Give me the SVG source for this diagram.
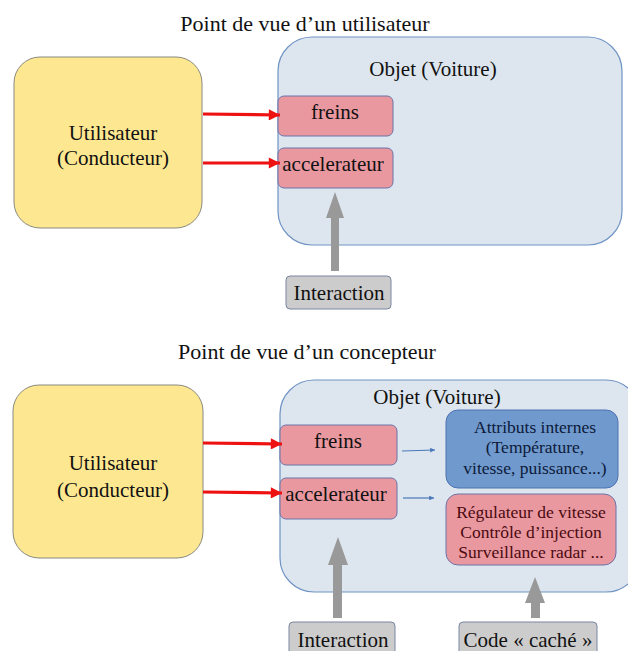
<svg xmlns="http://www.w3.org/2000/svg" width="628" height="651" viewBox="0 0 628 651">
<defs>
<style>
text{font-family:"Liberation Serif","Times New Roman",serif;text-anchor:middle}
.t{font-size:21px;fill:#111}
.h{font-size:22px;fill:#111}
.s{font-size:17.5px}
.user{fill:#fde891;stroke:#8a8a80;stroke-width:1}
.obj{fill:#dde6ef;stroke:#6f93c4;stroke-width:1.2}
.pink{fill:#ea98a0;stroke:#6b74a8;stroke-width:1}
.blue{fill:#7099cd;stroke:#4a72b0;stroke-width:1}
.gray{fill:#cccccc;stroke:#7a86a0;stroke-width:1}
.red{stroke:#ee1111;stroke-width:3.2;fill:none;marker-end:url(#rh)}
.thin{stroke:#4a78b8;stroke-width:1.2;fill:none;marker-end:url(#bh)}
.ga{fill:#999999}
</style>
<marker id="rh" viewBox="0 0 10 10" refX="10" refY="5" markerWidth="4" markerHeight="3.5" markerUnits="strokeWidth" orient="auto"><path d="M0,0L10,5L0,10z" fill="#ee1111"/></marker>
<marker id="bh" viewBox="0 0 10 10" refX="10" refY="5" markerWidth="5" markerHeight="4" markerUnits="strokeWidth" orient="auto"><path d="M0,0L10,5L0,10z" fill="#4a78b8"/></marker>
</defs>

<!-- Top section -->
<text class="h" x="305" y="31">Point de vue d’un utilisateur</text>

<g id="user1">
<rect class="user" x="14" y="57" width="188" height="171" rx="26"/>
<text class="t" x="113" y="140">Utilisateur</text>
<text class="t" x="113" y="165">(Conducteur)</text>
</g>

<g id="obj1">
<rect class="obj" x="278" y="37" width="344" height="208" rx="34"/>
<text class="t" x="433" y="76">Objet (Voiture)</text>
</g>

<g id="freins1">
<rect class="pink" x="278" y="96" width="115" height="40" rx="6"/>
<text class="t" x="335" y="119" fill="#2a0808">freins</text>
</g>

<g id="accel1">
<rect class="pink" x="278" y="148" width="115" height="40" rx="6"/>
<text class="t" x="333" y="171" fill="#2a0808">accelerateur</text>
</g>

<g id="interaction1">
<rect class="gray" x="286" y="276" width="105" height="33" rx="4"/>
<text class="t" x="339" y="300">Interaction</text>
</g>

<g id="connectors1">
<line class="red" x1="203" y1="114" x2="280" y2="115"/>
<line class="red" x1="203" y1="163" x2="280" y2="163"/>
<polygon class="ga" points="331,271 339,271 339,218 344,218 335,192 326,218 331,218"/>
</g>

<!-- Bottom section -->
<text class="h" x="307" y="359">Point de vue d’un concepteur</text>

<g id="user2">
<rect class="user" x="13" y="385" width="190" height="173" rx="26"/>
<text class="t" x="113" y="470">Utilisateur</text>
<text class="t" x="113" y="497">(Conducteur)</text>
</g>

<g id="obj2">
<rect class="obj" x="280" y="380" width="360" height="212" rx="34"/>
<text class="t" x="437" y="404">Objet (Voiture)</text>
</g>

<g id="freins2">
<rect class="pink" x="280" y="425" width="117" height="40" rx="6"/>
<text class="t" x="338" y="448" fill="#2a0808">freins</text>
</g>

<g id="accel2">
<rect class="pink" x="280" y="478" width="117" height="41" rx="6"/>
<text class="t" x="336" y="501" fill="#2a0808">accelerateur</text>
</g>

<g id="attributs">
<rect class="blue" x="446" y="410" width="172" height="78" rx="12"/>
<text class="s" x="535" y="433" fill="#0d1a3a">Attributs internes</text>
<text class="s" x="535" y="453" fill="#0d1a3a">(Température,</text>
<text class="s" x="535" y="474" fill="#0d1a3a">vitesse, puissance...)</text>
</g>

<g id="regulateur">
<rect class="pink" x="446" y="494" width="170" height="71" rx="12"/>
<text class="s" x="531" y="518" fill="#4a0a10">Régulateur de vitesse</text>
<text class="s" x="531" y="538" fill="#4a0a10">Contrôle d’injection</text>
<text class="s" x="531" y="558" fill="#4a0a10">Surveillance radar ...</text>
</g>

<g id="interaction2">
<rect class="gray" x="289" y="622" width="106" height="40" rx="4"/>
<text class="t" x="343" y="647">Interaction</text>
</g>

<g id="code">
<rect class="gray" x="459" y="622" width="138" height="40" rx="4"/>
<text class="t" x="528" y="647">Code « caché »</text>
</g>

<g id="connectors2">
<line class="red" x1="203" y1="443" x2="282" y2="444"/>
<line class="red" x1="203" y1="492" x2="282" y2="493"/>
<line class="thin" x1="402" y1="451" x2="435" y2="450"/>
<line class="thin" x1="403" y1="498" x2="434" y2="498"/>
<polygon class="ga" points="333,618 342,618 342,565 348,565 338,537 328,565 333,565"/>
<polygon class="ga" points="531,618 540,618 540,603 545,603 535,577 525,603 531,603"/>
</g>
</svg>
